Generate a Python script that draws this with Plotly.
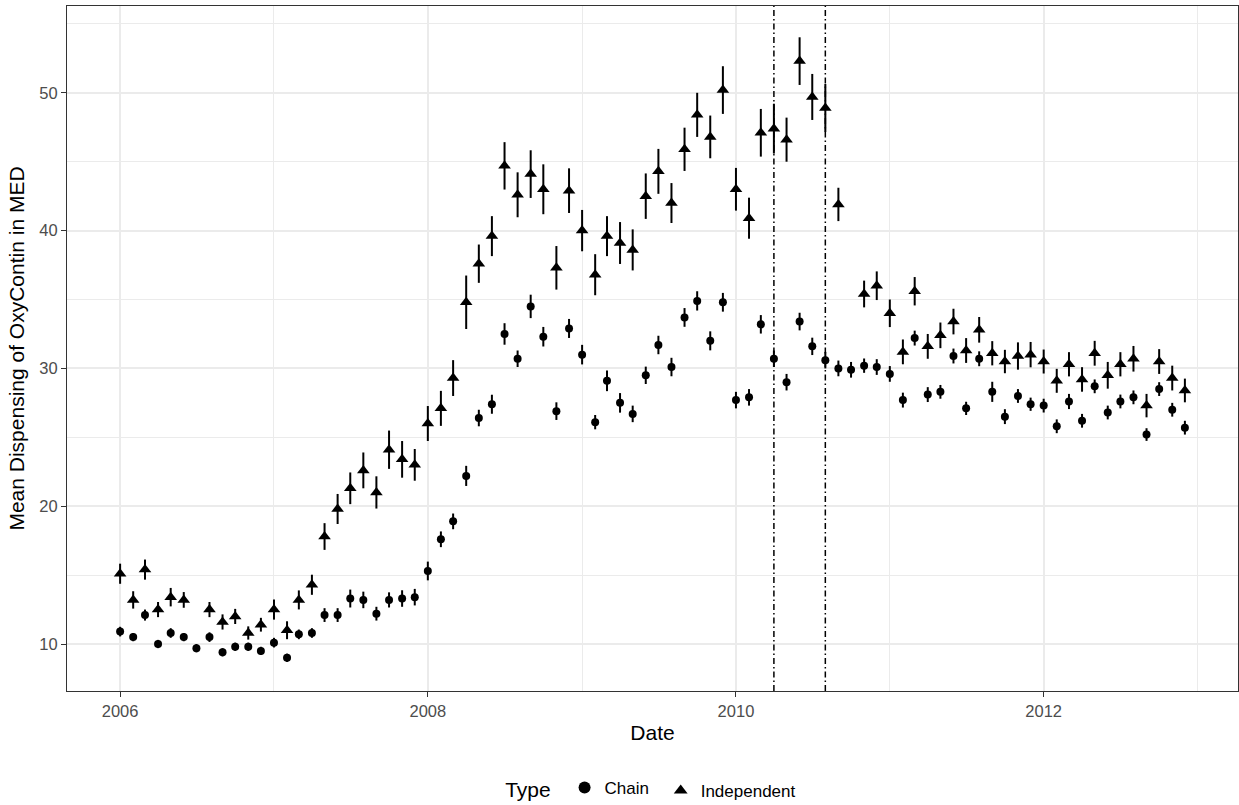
import plotly.graph_objects as go
import pandas as pd

months = [d.strftime("%Y-%m-%d") for d in pd.date_range("2006-01-01", periods=84, freq="MS")]

chain = [10.9, 10.5, 12.1, 10.0, 10.8, 10.5, 9.7, 10.5, 9.4, 9.8, 9.8, 9.5,
         10.1, 9.0, 10.7, 10.8, 12.1, 12.1, 13.3, 13.2, 12.2, 13.2, 13.3, 13.4,
         15.3, 17.6, 18.9, 22.2, 26.4, 27.4, 32.5, 30.7, 34.5, 32.3, 26.9, 32.9,
         31.0, 26.1, 29.1, 27.5, 26.7, 29.5, 31.7, 30.1, 33.7, 34.9, 32.0, 34.8,
         27.7, 27.9, 33.2, 30.7, 29.0, 33.4, 31.6, 30.6, 30.0, 29.9, 30.2, 30.1,
         29.6, 27.7, 32.2, 28.1, 28.3, 30.9, 27.1, 30.7, 28.3, 26.5, 28.0, 27.4,
         27.3, 25.8, 27.6, 26.2, 28.7, 26.8, 27.6, 27.9, 25.2, 28.5, 27.0, 25.7]

chain_err = [0.35, 0.3, 0.4, 0.3, 0.35, 0.3, 0.3, 0.35, 0.3, 0.3, 0.3, 0.3,
             0.35, 0.3, 0.35, 0.35, 0.5, 0.5, 0.65, 0.6, 0.5, 0.55, 0.6, 0.6,
             0.68, 0.57, 0.57, 0.73, 0.6, 0.69, 0.78, 0.6, 0.85, 0.71, 0.64, 0.69,
             0.71, 0.52, 0.75, 0.71, 0.6, 0.63, 0.67, 0.67, 0.68, 0.7, 0.69, 0.68,
             0.6, 0.6, 0.67, 0.6, 0.6, 0.64, 0.63, 0.6, 0.57, 0.57, 0.52, 0.57,
             0.57, 0.54, 0.54, 0.54, 0.5, 0.54, 0.48, 0.54, 0.73, 0.54, 0.5, 0.48,
             0.5, 0.5, 0.55, 0.5, 0.5, 0.5, 0.5, 0.5, 0.46, 0.5, 0.5, 0.5]

independent = [15.1, 13.2, 15.4, 12.5, 13.4, 13.2, None, 12.5, 11.6, 12.0, 10.8, 11.4,
               12.5, 11.0, 13.2, 14.3, 17.8, 19.8, 21.3, 22.6, 21.0, 24.1, 23.4, 23.0,
               26.0, 27.1, 29.3, 34.8, 37.6, 39.6, 44.7, 42.6, 44.1, 43.0, 37.3, 42.9,
               40.0, 36.8, 39.6, 39.1, 38.6, 42.5, 44.3, 42.0, 45.9, 48.4, 46.8, 50.2,
               43.0, 40.9, 47.1, 47.4, 46.6, 52.3, 49.7, 48.9, 41.9, None, 35.4, 36.0,
               34.0, 31.2, 35.6, 31.6, 32.4, 33.4, 31.3, 32.8, 31.1, 30.5, 30.9, 31.0,
               30.5, 29.1, 30.3, 29.2, 31.1, 29.5, 30.3, 30.7, 27.3, 30.5, 29.3, 28.4]

independent_err = [0.73, 0.63, 0.73, 0.55, 0.67, 0.57, None, 0.55, 0.55, 0.55, 0.48, 0.5,
                   0.73, 0.65, 0.69, 0.73, 0.97, 1.09, 1.15, 1.3, 1.17, 1.39, 1.33, 1.15,
                   1.27, 1.27, 1.3, 1.94, 1.39, 1.45, 1.72, 1.63, 1.73, 1.81, 1.58, 1.62,
                   1.5, 1.49, 1.45, 1.52, 1.49, 1.65, 1.63, 1.45, 1.57, 1.6, 1.55, 1.73,
                   1.55, 1.49, 1.73, 1.81, 1.6, 1.73, 1.67, 1.74, 1.21, None, 0.97, 1.04,
                   1.0, 0.9, 1.03, 0.9, 0.93, 0.93, 0.9, 0.93, 0.88, 0.85, 0.99, 0.92,
                   0.87, 0.87, 0.88, 0.89, 0.9, 0.97, 0.88, 0.93, 0.85, 0.9, 0.9, 0.86]

vline_dates = ["2010-04-01", "2010-08-01"]

x_ticks = ["2006-01-01", "2008-01-01", "2010-01-01", "2012-01-01"]
x_tick_labels = ["2006", "2008", "2010", "2012"]
y_ticks = [10, 20, 30, 40, 50]

FONT = "Liberation Sans, Arial, sans-serif"

fig = go.Figure()
fig.add_trace(go.Scatter(
    x=months, y=chain, mode="markers", name="Chain", legend="legend",
    marker=dict(symbol="circle", size=8, color="black"),
    error_y=dict(type="data", array=chain_err, color="black", thickness=2, width=0),
))
fig.add_trace(go.Scatter(
    x=months, y=independent, mode="markers", name="Independent", legend="legend2",
    marker=dict(symbol="triangle-up", size=11, color="black"),
    error_y=dict(type="data", array=independent_err, color="black", thickness=2, width=0),
))

for d in vline_dates:
    fig.add_shape(type="line", xref="x", yref="paper", x0=d, x1=d, y0=0, y1=1,
                  line=dict(color="black", width=1.5, dash="6px,3px,1.5px,3px"))

grid = "#EBEBEB"
fig.update_layout(
    width=1239, height=805,
    margin=dict(l=67, r=1, t=6, b=114, autoexpand=False),
    paper_bgcolor="white", plot_bgcolor="white",
    font=dict(family=FONT, color="black"),
    showlegend=True,
    legend=dict(
        orientation="h", x=0.3725, xanchor="left", y=-0.143, yanchor="middle",
        title=dict(text="Type ", font=dict(size=21, color="black")),
        font=dict(size=17, color="black"),
        itemsizing="constant",
    ),
    legend2=dict(
        orientation="h", x=0.507, xanchor="left", y=-0.146, yanchor="middle",
        font=dict(size=17, color="black"),
        itemsizing="constant",
    ),
    xaxis=dict(
        type="date",
        range=["2005-08-28", "2013-04-06"],
        tickvals=x_ticks, ticktext=x_tick_labels,
        showgrid=True, gridcolor=grid, gridwidth=1.6,
        minor=dict(dtick="M12", showgrid=True, gridcolor=grid, gridwidth=0.8),
        zeroline=False,
        showline=True, mirror=True, linecolor="#333333", linewidth=1.2,
        ticks="outside", ticklen=5, tickcolor="#333333", tickwidth=1.2,
        tickfont=dict(size=16.5, color="#4D4D4D", family=FONT),
        title=dict(text="Date", font=dict(size=21, color="black", family=FONT), standoff=6),
    ),
    yaxis=dict(
        range=[6.59, 56.3],
        tickvals=y_ticks,
        showgrid=True, gridcolor=grid, gridwidth=1.6,
        minor=dict(dtick=5, tick0=5, showgrid=True, gridcolor=grid, gridwidth=0.8),
        zeroline=False,
        showline=True, mirror=True, linecolor="#333333", linewidth=1.2,
        ticks="outside", ticklen=5, tickcolor="#333333", tickwidth=1.2,
        tickfont=dict(size=16.5, color="#4D4D4D", family=FONT),
        title=dict(text="Mean Dispensing of OxyContin in MED", font=dict(size=21, color="black", family=FONT), standoff=8),
    ),
)

fig.write_html("out.html",
               config={"displayModeBar": False},
               post_script="document.body.style.margin='0';document.body.style.overflow='hidden';")
